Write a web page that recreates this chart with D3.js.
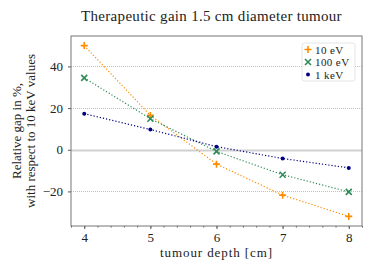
<!DOCTYPE html>
<html>
<head>
<meta charset="utf-8">
<script src="https://cdn.jsdelivr.net/npm/d3@7"></script>
<style>
  body { margin: 0; background: #fff; }
  svg text { font-family: "Liberation Serif", "DejaVu Serif", serif; fill: #222; }
</style>
</head>
<body>
<svg width="374" height="272"></svg>
<script>
var depths = [4, 5, 6, 7, 8];
var gain10eV = [50, 16.5, -6.9, -21.8, -32];
var gain100eV = [34.5, 14.9, -0.8, -12, -20.2];
var gain1keV = [17.3, 9.7, 1.5, -4.2, -8.7];
var seriesNames = ["10 eV", "100 eV", "1 keV"];
var yTicks = [-20, 0, 20, 40];

var series = [
    {name: seriesNames[0], values: gain10eV, color: "#ff8c00", marker: "plus"},
    {name: seriesNames[1], values: gain100eV, color: "#2e8b57", marker: "cross"},
    {name: seriesNames[2], values: gain1keV, color: "#000080", marker: "dot"}
];

var svg = d3.select("svg");
var margin = {left: 71, right: 12, top: 36, bottom: 46};
var width = 374 - margin.left - margin.right,
    height = 272 - margin.top - margin.bottom;

var x = d3.scaleLinear().domain([3.8, 8.2]).range([0, width]);
var y = d3.scaleLinear().domain([-36.6, 54.6]).range([height, 0]);

var g = svg.append("g").attr("transform", "translate(" + margin.left + "," + margin.top + ")");

// grid
g.selectAll(".grid").data(yTicks).enter().append("line")
    .attr("x1", 0).attr("x2", width)
    .attr("y1", function(d) { return Math.round(y(d)) + 0.5; })
    .attr("y2", function(d) { return Math.round(y(d)) + 0.5; })
    .attr("stroke", function(d) { return d === 0 ? "#d0d0d0" : "#b0b0b0"; })
    .attr("stroke-width", function(d) { return d === 0 ? 2 : 0.8; })
    .attr("stroke-dasharray", function(d) { return d === 0 ? null : "1,1"; });

// axes
var xAxis = d3.axisBottom(x).tickValues(depths).tickSize(3).tickPadding(4).tickFormat(d3.format("d"));
var xMinor = d3.axisBottom(x).tickValues(d3.range(3.8, 8.21, 0.2)).tickSize(1.5).tickFormat("");
var yAxis = d3.axisLeft(y).tickValues(yTicks).tickSize(3).tickPadding(5)
    .tickFormat(function(d) { return d < 0 ? "\u2212" + Math.abs(d) : d; });

var gx = g.append("g").attr("transform", "translate(0," + height + ")").call(xAxis);
g.append("g").attr("transform", "translate(0," + height + ")").call(xMinor)
    .call(function(s) { s.select(".domain").remove(); s.selectAll("line").attr("stroke", "#555"); });
var gy = g.append("g").call(yAxis);
[gx, gy].forEach(function(a) {
    a.select(".domain").remove();
    a.selectAll("line").attr("stroke", "#555");
    a.selectAll("text").style("font-size", "13px").attr("fill", "#222");
});

// frame
g.append("rect").attr("x", 0).attr("y", 0).attr("width", width).attr("height", height)
    .attr("fill", "none").attr("stroke", "#777").attr("stroke-width", 1);

// lines + markers
var line = d3.line().x(function(d, i) { return x(depths[i]); }).y(function(d) { return y(d); });

function drawMarker(sel, type, color) {
    if (type === "plus") {
        sel.append("path").attr("d", "M-3.5,0H3.5M0,-3.5V3.5").attr("stroke", color).attr("stroke-width", 1.6);
    } else if (type === "cross") {
        sel.append("path").attr("d", "M-3,-3L3,3M-3,3L3,-3").attr("stroke", color).attr("stroke-width", 1.6);
    } else {
        sel.append("circle").attr("r", 2).attr("fill", color);
    }
}

series.forEach(function(s) {
    g.append("path").datum(s.values).attr("d", line)
        .attr("fill", "none").attr("stroke", s.color).attr("stroke-width", 1.2)
        .attr("stroke-dasharray", "1.2,2");
    g.selectAll(null).data(s.values).enter().append("g")
        .attr("transform", function(d, i) { return "translate(" + x(depths[i]) + "," + y(d) + ")"; })
        .each(function() { drawMarker(d3.select(this), s.marker, s.color); });
});

// legend
var lg = g.append("g").attr("transform", "translate(" + (width - 60) + ",7)");
lg.append("rect").attr("width", 53).attr("height", 38).attr("rx", 2.5)
    .attr("fill", "rgba(255,255,255,0.8)").attr("stroke", "#ddd").attr("stroke-width", 0.8);
series.forEach(function(s, i) {
    var row = lg.append("g").attr("transform", "translate(0," + (6.5 + i * 12.5) + ")");
    drawMarker(row.append("g").attr("transform", "translate(6,0)"), s.marker, s.color);
    row.append("text").attr("x", 13).attr("y", 4).style("font-size", "11px")
        .style("letter-spacing", "0.4px").text(s.name);
});

// title and labels
svg.append("text").attr("x", margin.left + width / 2 - 5).attr("y", 21)
    .attr("text-anchor", "middle").style("font-size", "15px").style("letter-spacing", "0.3px")
    .text("Therapeutic gain 1.5 cm diameter tumour");
svg.append("text").attr("x", margin.left + width / 2).attr("y", 257)
    .attr("text-anchor", "middle").style("font-size", "13px").style("letter-spacing", "0.9px")
    .text("tumour depth [cm]");
var yl = svg.append("text").attr("transform", "translate(21," + (margin.top + height / 2) + ") rotate(-90)")
    .attr("text-anchor", "middle").style("font-size", "13px");
yl.append("tspan").attr("x", 0).attr("dy", 0).text("Relative gap in %,");
yl.append("tspan").attr("x", 0).attr("dy", 14).text("with respect to 10 keV values");
</script>
</body>
</html>
